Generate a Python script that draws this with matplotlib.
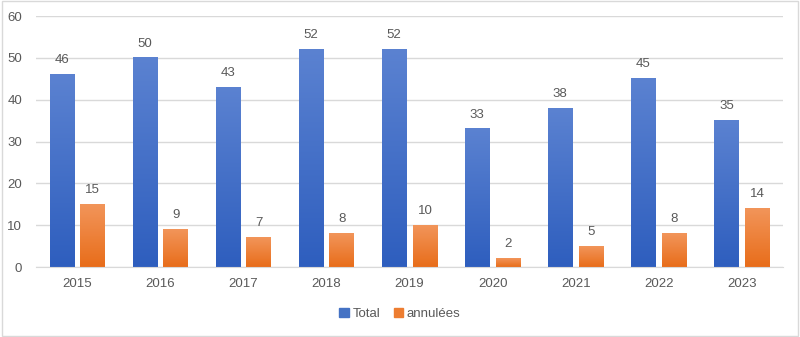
import numpy as np
import matplotlib
matplotlib.use('Agg')
import matplotlib.pyplot as plt
from matplotlib.colors import LinearSegmentedColormap
from matplotlib.patches import Rectangle

plt.rcParams['font.family'] = ['Liberation Sans', 'DejaVu Sans']

# données
annees = ['2015', '2016', '2017', '2018', '2019', '2020', '2021', '2022', '2023']
total = [46, 50, 43, 52, 52, 33, 38, 45, 35]
annulees = [15, 9, 7, 8, 10, 2, 5, 8, 14]

gris_texte = '#595959'
gris_grille = '#D9D9D9'

fig = plt.figure(figsize=(8, 3.37), dpi=100)
ax = fig.add_axes([0.045, 0.2077, 0.934, 0.7448])

x = np.arange(len(annees))
largeur = 0.30
decal = 0.185

cmap_bleu = LinearSegmentedColormap.from_list('bleu', ['#2E5EBE', '#5B82D1'])
cmap_orange = LinearSegmentedColormap.from_list('orange', ['#E86D1A', '#F2955A'])

barres_t = ax.bar(x - decal, total, largeur, color='#4472C4', label='Total', zorder=2)
barres_a = ax.bar(x + decal, annulees, largeur, color='#ED7D31', label='annulées', zorder=2)

# dégradé vertical dans chaque barre
grad = np.linspace(0, 1, 256).reshape(-1, 1)
for barres, cmap in [(barres_t, cmap_bleu), (barres_a, cmap_orange)]:
    for b in barres:
        x0, w, h = b.get_x(), b.get_width(), b.get_height()
        b.set_facecolor('none')
        ax.imshow(grad, cmap=cmap, origin='lower', aspect='auto',
                  extent=[x0, x0 + w, 0, h], zorder=2)

# étiquettes de valeurs
for barres, vals in [(barres_t, total), (barres_a, annulees)]:
    for b, v in zip(barres, vals):
        ax.annotate(str(v), (b.get_x() + b.get_width() / 2, v),
                    xytext=(0, 6), textcoords='offset points',
                    ha='center', va='bottom', fontsize=9.5, color=gris_texte)

ax.set_xlim(-0.5, len(annees) - 0.5)
ax.set_ylim(0, 60)
ax.set_yticks(range(0, 61, 10))
ax.set_xticks(x)
ax.set_xticklabels(annees)
ax.tick_params(axis='both', length=0, labelsize=9.5, colors=gris_texte)
ax.tick_params(axis='x', pad=8)
ax.tick_params(axis='y', pad=10)

ax.grid(axis='y', color=gris_grille, linewidth=1, zorder=0)
ax.set_axisbelow(True)
for s in ['top', 'right', 'left']:
    ax.spines[s].set_visible(False)
ax.spines['bottom'].set_color(gris_grille)

handles = [Rectangle((0, 0), 1, 1, color='#4472C4'), Rectangle((0, 0), 1, 1, color='#ED7D31')]
fig.legend(handles, ['Total', 'annulées'], loc='center', bbox_to_anchor=(0.5, 0.068),
           ncol=2, frameon=False, fontsize=9.5, handlelength=0.7, handleheight=0.7,
           handletextpad=0.3, columnspacing=1.0, labelcolor=gris_texte)

# cadre du graphique
fig.patches.append(Rectangle((0.002, 0.003), 0.996, 0.994, transform=fig.transFigure,
                             fill=False, edgecolor='#D9D9D9', linewidth=1))

fig.savefig('out.png', dpi=100)
